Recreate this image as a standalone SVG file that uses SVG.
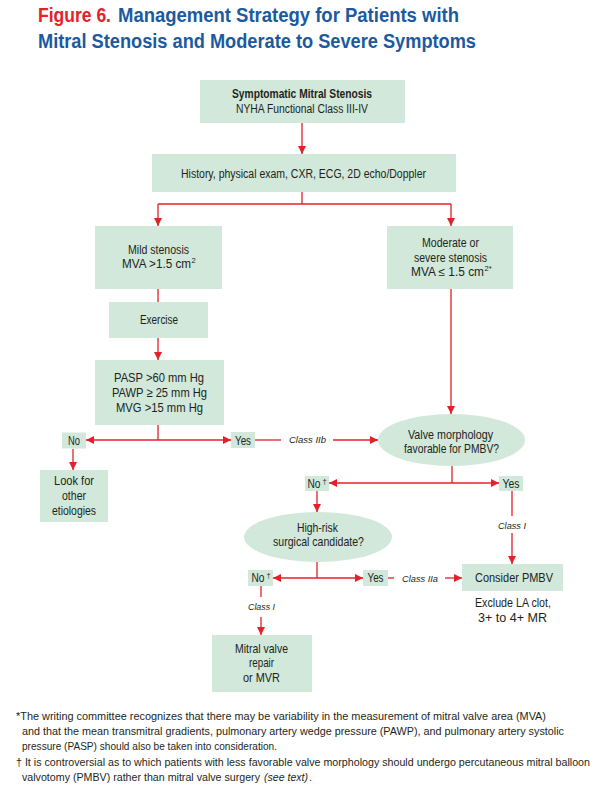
<svg xmlns="http://www.w3.org/2000/svg" width="598" height="812" viewBox="0 0 598 812">
<style>
.bg{fill:#ffffff}
.box{fill:#d1e8da}
.ln{stroke:#e5202b;stroke-width:1.3;fill:none}
.t{font-family:"Liberation Sans Narrow","Liberation Sans",Arial,sans-serif;font-size:12px;fill:#231f20;text-anchor:middle}
.s{font-family:"Liberation Sans Narrow","Liberation Sans",Arial,sans-serif;font-size:7.5px;fill:#231f20}
.m{font-size:13px}
.b{font-weight:bold}
.cls{font-family:"Liberation Sans Narrow","Liberation Sans",Arial,sans-serif;font-size:9.5px;font-style:italic;fill:#231f20;text-anchor:middle}
.ttl{font-family:"Liberation Sans Narrow","Liberation Sans",Arial,sans-serif;font-size:19.5px;font-weight:bold}
.red{fill:#e8202a}
.blue{fill:#1b5aa0}
.fn{font-family:"Liberation Sans Narrow","Liberation Sans",Arial,sans-serif;font-size:10.5px;fill:#231f20}
.it{font-style:italic}
</style>
<defs>
<marker id="ah" markerUnits="userSpaceOnUse" markerWidth="8" markerHeight="8" refX="8" refY="4" orient="auto">
<path d="M0,0 L8,4 L0,8 z" fill="#e5202b"/>
</marker>
</defs>
<rect class="bg" x="0" y="0" width="598" height="812"/>

<g id="title">
<text class="ttl red" x="38" y="22" textLength="73" lengthAdjust="spacingAndGlyphs">Figure 6.</text>
<text class="ttl blue" x="118" y="22" textLength="341" lengthAdjust="spacingAndGlyphs">Management Strategy for Patients with</text>
<text class="ttl blue" x="38" y="48" textLength="438" lengthAdjust="spacingAndGlyphs">Mitral Stenosis and Moderate to Severe Symptoms</text>
</g>

<g id="connectors">
<line class="ln" x1="302" y1="123" x2="302" y2="154" marker-end="url(#ah)"/>
<polyline class="ln" points="302,192 302,204"/>
<line class="ln" x1="158" y1="204" x2="451" y2="204"/>
<line class="ln" x1="158" y1="204" x2="158" y2="226" marker-end="url(#ah)"/>
<line class="ln" x1="451" y1="204" x2="451" y2="226" marker-end="url(#ah)"/>
<line class="ln" x1="158" y1="289" x2="158" y2="302"/>
<line class="ln" x1="158" y1="338" x2="158" y2="360" marker-end="url(#ah)"/>
<line class="ln" x1="158" y1="425" x2="158" y2="440"/>
<line class="ln" x1="158" y1="440" x2="86" y2="440" marker-end="url(#ah)"/>
<line class="ln" x1="158" y1="440" x2="231" y2="440" marker-end="url(#ah)"/>
<line class="ln" x1="73" y1="449" x2="73" y2="470" marker-end="url(#ah)"/>
<line class="ln" x1="255" y1="440" x2="281" y2="440"/>
<line class="ln" x1="333" y1="440" x2="378" y2="440" marker-end="url(#ah)"/>
<line class="ln" x1="451" y1="289" x2="451" y2="414" marker-end="url(#ah)"/>
<line class="ln" x1="452" y1="466" x2="452" y2="483"/>
<line class="ln" x1="452" y1="483" x2="329" y2="483" marker-end="url(#ah)"/>
<line class="ln" x1="452" y1="483" x2="499" y2="483" marker-end="url(#ah)"/>
<line class="ln" x1="317" y1="491" x2="317" y2="512" marker-end="url(#ah)"/>
<line class="ln" x1="512" y1="491" x2="512" y2="516"/>
<line class="ln" x1="512" y1="533" x2="512" y2="564" marker-end="url(#ah)"/>
<line class="ln" x1="317" y1="562" x2="317" y2="578"/>
<line class="ln" x1="317" y1="578" x2="273" y2="578" marker-end="url(#ah)"/>
<line class="ln" x1="317" y1="578" x2="363" y2="578" marker-end="url(#ah)"/>
<line class="ln" x1="388" y1="578" x2="394" y2="578"/>
<line class="ln" x1="445" y1="578" x2="462" y2="578" marker-end="url(#ah)"/>
<line class="ln" x1="261" y1="586" x2="261" y2="597"/>
<line class="ln" x1="261" y1="617" x2="261" y2="635" marker-end="url(#ah)"/>
<text class="cls" x="307.5" y="443" textLength="37" lengthAdjust="spacingAndGlyphs">Class IIb</text>
<text class="cls" x="512" y="529" textLength="28" lengthAdjust="spacingAndGlyphs">Class I</text>
<text class="cls" x="420" y="582" textLength="36" lengthAdjust="spacingAndGlyphs">Class IIa</text>
<text class="cls" x="261.5" y="610" textLength="27" lengthAdjust="spacingAndGlyphs">Class I</text>
</g>

<g id="n-symptomatic">
<rect class="box" x="200" y="80" width="205" height="43"/>
<text class="t b" x="302" y="98" textLength="140" lengthAdjust="spacingAndGlyphs">Symptomatic Mitral Stenosis</text>
<text class="t" x="302" y="113" textLength="132" lengthAdjust="spacingAndGlyphs">NYHA Functional Class III-IV</text>
</g>

<g id="n-history">
<rect class="box" x="152" y="154" width="304" height="38"/>
<text class="t" x="303.5" y="178" textLength="245" lengthAdjust="spacingAndGlyphs">History, physical exam, CXR, ECG, 2D echo/Doppler</text>
</g>

<g id="n-mild">
<rect class="box" x="95" y="226" width="127" height="63"/>
<text class="t" x="158.5" y="254" textLength="61" lengthAdjust="spacingAndGlyphs">Mild stenosis</text>
<text class="t" x="156.5" y="268" textLength="69" lengthAdjust="spacingAndGlyphs">MVA &gt;1.5 cm</text>
<text class="s" x="191.5" y="263">2</text>
</g>

<g id="n-moderate">
<rect class="box" x="387" y="226" width="126" height="63"/>
<text class="t" x="450.5" y="247" textLength="57" lengthAdjust="spacingAndGlyphs">Moderate or</text>
<text class="t" x="450.5" y="262" textLength="73" lengthAdjust="spacingAndGlyphs">severe stenosis</text>
<text class="t" x="447.5" y="276" textLength="73" lengthAdjust="spacingAndGlyphs">MVA ≤ 1.5 cm</text>
<text class="s" x="484.5" y="271">2*</text>
</g>

<g id="n-exercise">
<rect class="box" x="109" y="302" width="99" height="36"/>
<text class="t" x="159" y="324" textLength="38" lengthAdjust="spacingAndGlyphs">Exercise</text>
</g>

<g id="n-pasp">
<rect class="box" x="95" y="360" width="129" height="65"/>
<text class="t m" x="159" y="382" textLength="90" lengthAdjust="spacingAndGlyphs">PASP &gt;60 mm Hg</text>
<text class="t m" x="159.5" y="397" textLength="95" lengthAdjust="spacingAndGlyphs">PAWP ≥ 25 mm Hg</text>
<text class="t m" x="159.5" y="412" textLength="87" lengthAdjust="spacingAndGlyphs">MVG &gt;15 mm Hg</text>
</g>

<g id="n-no1">
<rect class="box" x="62" y="432.5" width="24" height="16"/>
<text class="t m" x="74" y="445" textLength="12" lengthAdjust="spacingAndGlyphs">No</text>
</g>

<g id="n-yes1">
<rect class="box" x="231" y="432" width="24" height="16"/>
<text class="t m" x="243" y="444.5" textLength="16" lengthAdjust="spacingAndGlyphs">Yes</text>
</g>

<g id="n-look">
<rect class="box" x="40" y="470" width="68" height="52"/>
<text class="t m" x="74" y="485" textLength="40" lengthAdjust="spacingAndGlyphs">Look for</text>
<text class="t m" x="74" y="500" textLength="24" lengthAdjust="spacingAndGlyphs">other</text>
<text class="t m" x="74" y="515" textLength="44" lengthAdjust="spacingAndGlyphs">etiologies</text>
</g>

<g id="n-valve">
<ellipse class="box" cx="451.5" cy="440" rx="73.5" ry="26"/>
<text class="t m" x="450.5" y="439" textLength="85" lengthAdjust="spacingAndGlyphs">Valve morphology</text>
<text class="t m" x="451.5" y="453" textLength="95" lengthAdjust="spacingAndGlyphs">favorable for PMBV?</text>
</g>

<g id="n-no2">
<rect class="box" x="305" y="476" width="24" height="15"/>
<text class="t m" x="314" y="488" textLength="13" lengthAdjust="spacingAndGlyphs">No</text>
<text class="s" x="322.5" y="484">†</text>
</g>

<g id="n-yes2">
<rect class="box" x="499" y="476" width="24" height="15"/>
<text class="t m" x="511" y="488" textLength="17" lengthAdjust="spacingAndGlyphs">Yes</text>
</g>

<g id="n-highrisk">
<ellipse class="box" cx="318" cy="537" rx="74" ry="25"/>
<text class="t m" x="317.5" y="532" textLength="41" lengthAdjust="spacingAndGlyphs">High-risk</text>
<text class="t m" x="318.5" y="546" textLength="91" lengthAdjust="spacingAndGlyphs">surgical candidate?</text>
</g>

<g id="n-no3">
<rect class="box" x="248" y="570" width="25" height="16"/>
<text class="t m" x="258" y="582" textLength="13" lengthAdjust="spacingAndGlyphs">No</text>
<text class="s" x="266.5" y="578">†</text>
</g>

<g id="n-yes3">
<rect class="box" x="363" y="570" width="25" height="16"/>
<text class="t m" x="375.5" y="582" textLength="16" lengthAdjust="spacingAndGlyphs">Yes</text>
</g>

<g id="n-pmbv">
<rect class="box" x="462" y="564" width="101" height="27"/>
<text class="t m" x="514" y="582" textLength="78" lengthAdjust="spacingAndGlyphs">Consider PMBV</text>
<text class="t m" x="513" y="607" textLength="76" lengthAdjust="spacingAndGlyphs">Exclude LA clot,</text>
<text class="t m" x="512.5" y="622" textLength="69" lengthAdjust="spacingAndGlyphs">3+ to 4+ MR</text>
</g>

<g id="n-mvr">
<rect class="box" x="212" y="635" width="100" height="57"/>
<text class="t m" x="261.5" y="653" textLength="53" lengthAdjust="spacingAndGlyphs">Mitral valve</text>
<text class="t m" x="261.5" y="667" textLength="25" lengthAdjust="spacingAndGlyphs">repair</text>
<text class="t m" x="261.5" y="682" textLength="37" lengthAdjust="spacingAndGlyphs">or MVR</text>
</g>

<g id="footnotes">
<text class="fn" x="16" y="720" textLength="530" lengthAdjust="spacingAndGlyphs">*The writing committee recognizes that there may be variability in the measurement of mitral valve area (MVA)</text>
<text class="fn" x="22" y="735" textLength="542" lengthAdjust="spacingAndGlyphs">and that the mean transmitral gradients, pulmonary artery wedge pressure (PAWP), and pulmonary artery systolic</text>
<text class="fn" x="22" y="750" textLength="255" lengthAdjust="spacingAndGlyphs">pressure (PASP) should also be taken into consideration.</text>
<text class="fn" x="16" y="766" textLength="574" lengthAdjust="spacingAndGlyphs">† It is controversial as to which patients with less favorable valve morphology should undergo percutaneous mitral balloon</text>
<text class="fn" x="22" y="781" textLength="238" lengthAdjust="spacingAndGlyphs">valvotomy (PMBV) rather than mitral valve surgery</text>
<text class="fn it" x="264" y="781" textLength="44" lengthAdjust="spacingAndGlyphs">(see text)</text>
<text class="fn" x="309" y="781">.</text>
</g>
</svg>
